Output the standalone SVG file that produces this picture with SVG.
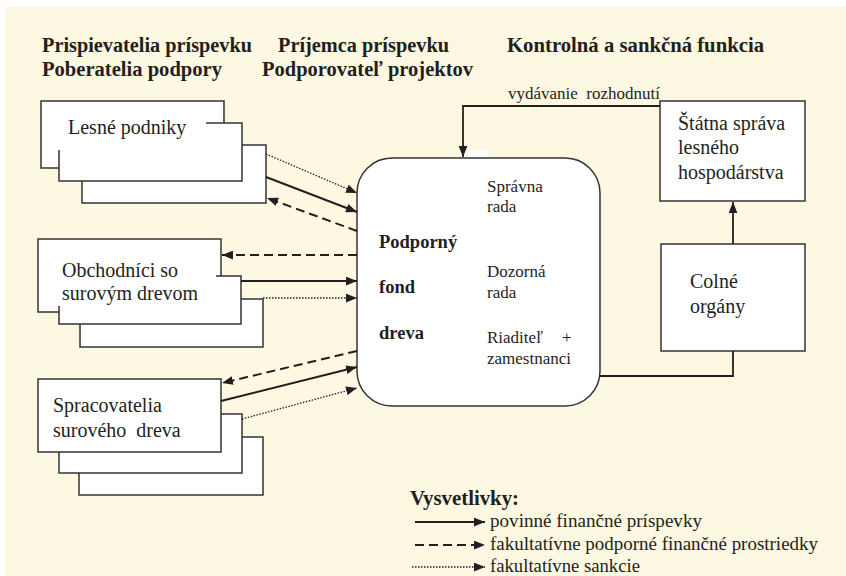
<svg xmlns="http://www.w3.org/2000/svg" width="846" height="576" viewBox="0 0 846 576">
<defs>
<style>
.bg{fill:#FDF8E1}
.box{fill:#fff;stroke:#333;stroke-width:1.5}
.cover{fill:#fff}
.t{font-family:"Liberation Serif","Times New Roman",serif;fill:#231F20}
.n{font-size:20px}
.s{font-size:17px}
.l{font-size:18px}
.h{font-size:20px;font-weight:bold}
.b{font-size:18.5px;font-weight:bold}
.ln{fill:none;stroke:#231F20;stroke-width:1.8}
.solid{stroke-width:2}
.dash{stroke-dasharray:9 5;stroke-width:2}
.dot{stroke-dasharray:1.5 1.5;stroke-width:1.3}
</style>
<marker id="ah" viewBox="0 0 10 8" refX="10" refY="4" markerUnits="userSpaceOnUse" markerWidth="11" markerHeight="9" orient="auto">
<path d="M0,0 L10,4 L0,8 z" fill="#231F20"/>
</marker>
</defs>
<rect class="bg" x="5" y="7" width="841" height="569"/>

<g id="headers">
<text class="t h" x="42" y="52" textLength="210" lengthAdjust="spacingAndGlyphs">Prispievatelia príspevku</text>
<text class="t h" x="278" y="52" textLength="171" lengthAdjust="spacingAndGlyphs">Príjemca príspevku</text>
<text class="t h" x="507" y="52" textLength="257" lengthAdjust="spacingAndGlyphs">Kontrolná a sankčná funkcia</text>
<text class="t h" x="42" y="76" textLength="180" lengthAdjust="spacingAndGlyphs">Poberatelia podpory</text>
<text class="t h" x="262" y="76" textLength="211" lengthAdjust="spacingAndGlyphs">Podporovateľ projektov</text>
</g>

<g id="lesne-podniky">
<rect class="box" x="82" y="145" width="184" height="58"/>
<rect class="box" x="41" y="101" width="183" height="67"/>
<rect class="box" x="59" y="123" width="183" height="58"/>
<rect class="cover" x="58" y="110" width="148" height="40"/>
<text class="t n" x="68" y="134">Lesné podniky</text>
</g>

<g id="obchodnici">
<rect class="box" x="80" y="299" width="183" height="48"/>
<rect class="box" x="38" y="239" width="183" height="73"/>
<rect class="box" x="59" y="276" width="182" height="48"/>
<rect class="cover" x="58" y="250" width="158" height="56"/>
<text class="t n" x="62" y="277">Obchodníci so</text>
<text class="t n" x="62" y="300">surovým drevom</text>
</g>

<g id="spracovatelia">
<rect class="box" x="79" y="437" width="184" height="58"/>
<rect class="box" x="59" y="414" width="183" height="59"/>
<rect class="box" x="38" y="379" width="183" height="73"/>
<text class="t n" x="53" y="412">Spracovatelia</text>
<text class="t n" x="53" y="437" xml:space="preserve">surového  dreva</text>
</g>

<g id="fond">
<rect x="468" y="150" width="19" height="8" fill="#fff"/>
<rect class="box" x="357" y="158" width="243" height="248" rx="35" ry="35"/>
<text class="t b" x="379" y="248">Podporný</text>
<text class="t b" x="379" y="293">fond</text>
<text class="t b" x="379" y="339">dreva</text>
<text class="t s" x="487" y="192">Správna</text>
<text class="t s" x="487" y="212">rada</text>
<text class="t s" x="487" y="277">Dozorná</text>
<text class="t s" x="487" y="298">rada</text>
<text class="t s" x="487" y="343">Riaditeľ<tspan x="562">+</tspan></text>
<text class="t s" x="487" y="364">zamestnanci</text>
</g>

<g id="statna-sprava">
<rect class="box" x="660" y="101" width="145" height="100"/>
<text class="t n" x="678" y="130">Štátna správa</text>
<text class="t n" x="678" y="154">lesného</text>
<text class="t n" x="678" y="179">hospodárstva</text>
</g>

<g id="colne-organy">
<rect class="box" x="661" y="244" width="144" height="107"/>
<text class="t n" x="690" y="288">Colné</text>
<text class="t n" x="690" y="313">orgány</text>
</g>

<g id="connectors">
<polyline class="ln" points="660,106 463,106 463,157" marker-end="url(#ah)"/>
<text class="t s" x="508" y="99" xml:space="preserve">vydávanie  rozhodnutí</text>
<line class="ln" x1="733" y1="244" x2="733" y2="202" marker-end="url(#ah)"/>
<polyline class="ln" points="600,376 733,376 733,351"/>

<line class="ln dot" x1="266" y1="154" x2="357" y2="193" marker-end="url(#ah)"/>
<line class="ln solid" x1="266" y1="177" x2="357" y2="212" marker-end="url(#ah)"/>
<line class="ln dash" x1="357" y1="231" x2="267" y2="198" marker-end="url(#ah)"/>

<line class="ln dash" x1="357" y1="255" x2="222" y2="255" marker-end="url(#ah)"/>
<line class="ln solid" x1="241" y1="281" x2="357" y2="281" marker-end="url(#ah)"/>
<line class="ln dot" x1="263" y1="298" x2="357" y2="298" marker-end="url(#ah)"/>

<line class="ln dash" x1="357" y1="351" x2="222" y2="383" marker-end="url(#ah)"/>
<line class="ln solid" x1="221" y1="401" x2="357" y2="367" marker-end="url(#ah)"/>
<line class="ln dot" x1="242" y1="419" x2="357" y2="388" marker-end="url(#ah)"/>
</g>

<g id="legend">
<text class="t h" x="410" y="505" textLength="109" lengthAdjust="spacingAndGlyphs">Vysvetlivky:</text>
<line class="ln solid" x1="415" y1="522" x2="485" y2="522" marker-end="url(#ah)"/>
<text class="t l" x="490" y="527" textLength="212" lengthAdjust="spacingAndGlyphs">povinné finančné príspevky</text>
<line class="ln dash" x1="415" y1="545" x2="485" y2="545" stroke-dasharray="7 4" marker-end="url(#ah)"/>
<text class="t l" x="490" y="550" textLength="328" lengthAdjust="spacingAndGlyphs">fakultatívne podporné finančné prostriedky</text>
<line class="ln dot" x1="412" y1="567" x2="485" y2="567" marker-end="url(#ah)"/>
<text class="t l" x="490" y="572" textLength="150" lengthAdjust="spacingAndGlyphs">fakultatívne sankcie</text>
</g>
</svg>
